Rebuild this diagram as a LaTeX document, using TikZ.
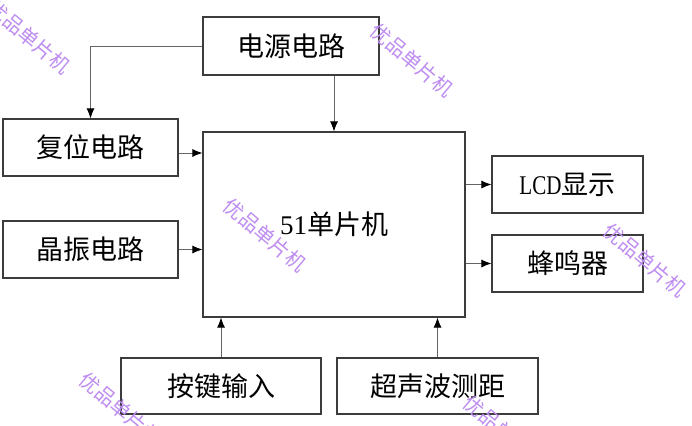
\documentclass[tikz,border=0pt]{standalone}
\usepackage{fontspec}
\setmainfont{Liberation Serif}
\newfontfamily\cjk{Noto Sans CJK SC}
\usetikzlibrary{arrows.meta,calc}
\definecolor{boxline}{RGB}{60,60,60}
\definecolor{arrline}{RGB}{100,100,100}
\definecolor{wmcolor}{RGB}{190,140,240}
\tikzset{
  blk/.style={draw=boxline, line width=1.2pt, rectangle, inner sep=0pt,
    font=\cjk\fontsize{27}{31}\selectfont},
  conn/.style={draw=arrline, line width=0.8pt,
    -{Latex[length=10pt,width=8pt,color=black]}},
  wm/.style={text=wmcolor, font=\cjk\fontsize{20}{24}\selectfont, inner sep=0pt}
}
\begin{document}
\begin{tikzpicture}[x=1pt,y=-1pt]
\useasboundingbox (0,0) rectangle (692,425);
\clip (0,0) rectangle (692,425);
\fill[white] (0,0) rectangle (692,425);
% boxes
\node[blk, minimum width=176pt, minimum height=58pt] (power) at (291,46) {电源电路};
\node[blk, minimum width=175pt, minimum height=57pt] (reset) at (90.5,147.5) {复位电路};
\node[blk, minimum width=175pt, minimum height=57pt] (xtal) at (90.5,249.5) {晶振电路};
\node[blk, minimum width=262pt, minimum height=185pt] (mcu) at (334,224.5) {{\rmfamily 51}单片机};
\node[blk, minimum width=151pt, minimum height=57pt] (lcd) at (567.5,184.5) {{\rmfamily\scalebox{0.78}[1]{LCD}}显示};
\node[blk, minimum width=151pt, minimum height=57pt] (buzz) at (567.5,263.5) {蜂鸣器};
\node[blk, minimum width=200pt, minimum height=56pt] (keys) at (221,386) {按键输入};
\node[blk, minimum width=201pt, minimum height=56pt] (ultra) at (437.5,386) {超声波测距};
% connectors
\draw[conn] (power.west) -| (reset.north);
\draw[conn] (power.south -| mcu.north) -- (mcu.north);
\draw[conn] (reset.east |- 0,153) -- (mcu.west |- 0,153);
\draw[conn] (xtal.east) -- (xtal.east -| mcu.west);
\draw[conn] (lcd.west -| mcu.east) -- (lcd.west);
\draw[conn] (buzz.west -| mcu.east) -- (buzz.west);
\draw[conn] (keys.north) -- (keys.north |- mcu.south);
\draw[conn] (ultra.north) -- (ultra.north |- mcu.south);
% watermarks
\node[wm, rotate=-40] (wm1) at (29,37) {优品单片机};
\node[wm, rotate=-40] (wm2) at (412,60) {优品单片机};
\node[wm, rotate=-40] (wm3) at (265,235) {优品单片机};
\node[wm, rotate=-40] (wm4) at (121,409) {优品单片机};
\node[wm, rotate=-40] (wm5) at (645,260) {优品单片机};
\node[wm, rotate=-40] (wm6) at (505,432) {优品单片机};
\end{tikzpicture}
\end{document}
